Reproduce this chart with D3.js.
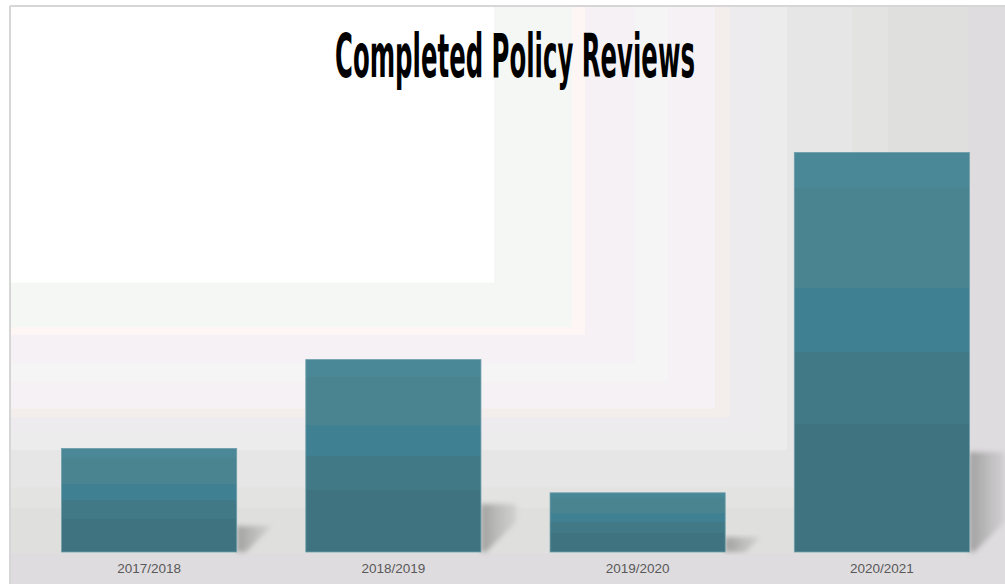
<!DOCTYPE html>
<html>
<head>
<meta charset="utf-8">
<script src="https://cdn.jsdelivr.net/npm/d3@7"></script>
<style>
  html, body { margin: 0; padding: 0; background: #ffffff; }
  svg { display: block; }
</style>
</head>
<body>
<svg id="chart" width="1005" height="584"></svg>
<script>
// ---- data ----
const categories = ["2017/2018", "2018/2019", "2019/2020", "2020/2021"];
const values = [7, 13, 4, 27];
const title = "Completed Policy Reviews";

// ---- background banding (style) ----
const bandEdges = [1100, 968, 888, 852, 787, 758, 730, 715, 668, 635, 585, 572, 494];
const bandColors = ["#dfdcdf", "#dfe0dd", "#e3e4e1", "#e6e6e6", "#ececec", "#eeebee", "#f3edec", "#f5f1f4", "#f5f5f5", "#f5f1f5", "#fdf6f5", "#f4f7f4", "#ffffff"];

const W = 1005, H = 584;
const svg = d3.select("#chart");
const defs = svg.append("defs");

const fx = 10, fy = 6;
const aspect = 1.75;
const bg = svg.append("g");
bg.append("rect").attr("x", fx).attr("y", fy).attr("width", W).attr("height", H).attr("fill", bandColors[0]);
bandEdges.forEach((xr, i) => {
  bg.append("rect")
    .attr("x", fx).attr("y", fy)
    .attr("width", xr - fx)
    .attr("height", (xr - fx) / aspect)
    .attr("fill", bandColors[i]);
});
// frame border
svg.append("line").attr("x1", fx).attr("x2", fx).attr("y1", fy).attr("y2", H).attr("stroke", "#d6d6d6").attr("stroke-width", 2);
svg.append("line").attr("x1", fx).attr("x2", W).attr("y1", fy).attr("y2", fy).attr("stroke", "#d6d6d6").attr("stroke-width", 2);

// ---- scales ----
const x = d3.scaleBand().domain(categories).range([27, 1004]).paddingInner(0.283).paddingOuter(0.1415);
const y = d3.scaleLinear().domain([0, 30]).range([552, 552 - 444]);

// bar gradient (banded)
const grad = defs.append("linearGradient").attr("id", "barGrad")
  .attr("x1", 0).attr("y1", 0).attr("x2", 0).attr("y2", 1);
const stops = [
  [0.0, "#4a8898"], [0.09, "#4a8898"],
  [0.09, "#4a8491"], [0.34, "#4a8491"],
  [0.34, "#3f8093"], [0.5, "#3f8093"],
  [0.5, "#417987"], [0.68, "#417987"],
  [0.68, "#3f7380"], [1.0, "#3f7380"]
];
stops.forEach(s => grad.append("stop").attr("offset", s[0]).attr("stop-color", s[1]));

// shadow gradient & blur
const sg = defs.append("linearGradient").attr("id", "shadowGrad")
  .attr("x1", 0).attr("y1", 0).attr("x2", 1).attr("y2", 0);
sg.append("stop").attr("offset", 0).attr("stop-color", "#949494").attr("stop-opacity", 0.85);
sg.append("stop").attr("offset", 1).attr("stop-color", "#bdbdbd").attr("stop-opacity", 0.45);
const blur = defs.append("filter").attr("id", "blur").attr("x", "-20%").attr("y", "-20%").attr("width", "140%").attr("height", "140%");
blur.append("feGaussianBlur").attr("stdDeviation", 2.5);

const data = categories.map((c, i) => ({ c, v: values[i] }));

// shadows
const D = 35;
svg.append("g").selectAll("polygon").data(data).join("polygon")
  .attr("points", d => {
    const x1 = x(d.c) + x.bandwidth();
    const yb = y(0);
    const s = (y(0) - y(d.v)) * 0.25;
    const corner = Math.min(s, D - 5);
    return [[x1, yb - s], [x1 + D, yb - s], [x1 + D, yb - corner], [x1 + D - corner, yb], [x1, yb]]
      .map(p => p.join(",")).join(" ");
  })
  .attr("fill", "url(#shadowGrad)")
  .attr("filter", "url(#blur)");

// bars
svg.append("g").selectAll("rect").data(data).join("rect")
  .attr("x", d => x(d.c))
  .attr("y", d => y(d.v))
  .attr("width", x.bandwidth())
  .attr("height", d => y(0) - y(d.v))
  .attr("fill", "url(#barGrad)")
  .attr("stroke", "#6f9eab")
  .attr("stroke-width", 0.8);

// x axis labels
const xAxis = d3.axisBottom(x).tickSize(0).tickPadding(0);
const ax = svg.append("g").attr("transform", `translate(0, ${y(0)})`).call(xAxis);
ax.select(".domain").remove();
ax.selectAll("text")
  .attr("dy", null)
  .attr("y", 21)
  .attr("font-family", "'Liberation Sans', Arial, sans-serif")
  .attr("font-size", 13.5)
  .attr("fill", "#595959");

// title (condensed via horizontal scale)
const t = svg.append("text")
  .attr("x", 0).attr("y", 0)
  .attr("text-anchor", "middle")
  .attr("font-family", "'Liberation Sans Narrow', 'DejaVu Sans Condensed', 'Liberation Sans', sans-serif")
  .attr("font-weight", "bold")
  .attr("font-size", 61)
  .attr("fill", "#000")
  .text(title);
const natural = t.node().getComputedTextLength();
const sx = 360 / natural;
t.attr("transform", `translate(515, 77) scale(${sx}, 1)`);
</script>
</body>
</html>
